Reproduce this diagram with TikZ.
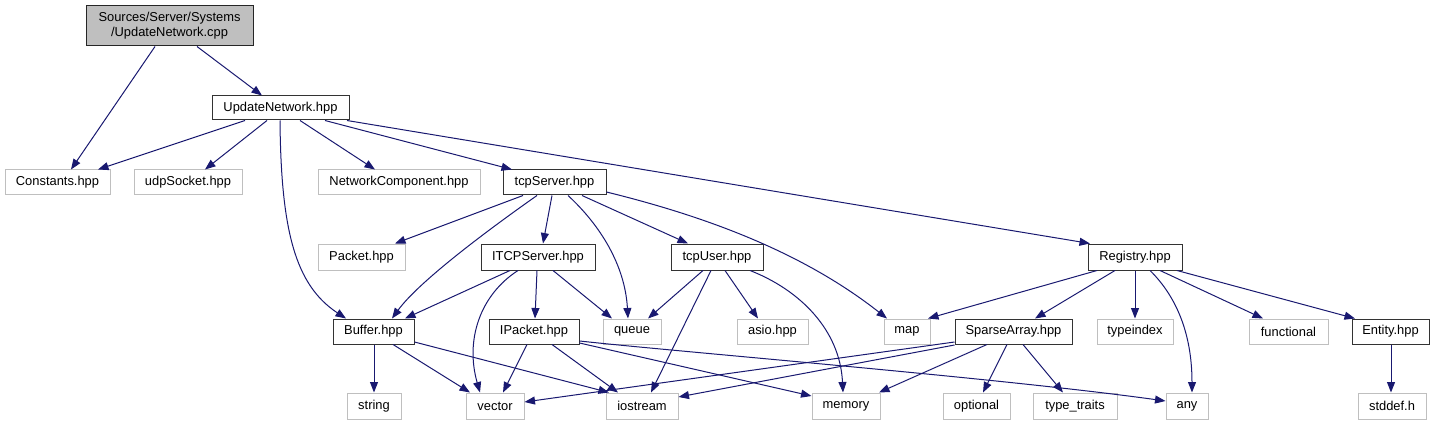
\documentclass[tikz,border=0pt]{standalone}
\usepackage{fontspec}
\setmainfont{Liberation Sans}
\usetikzlibrary{arrows.meta}
\definecolor{edgeblue}{HTML}{191970}
\definecolor{lgray}{HTML}{BFBFBF}
\newcommand\bx[7]{\node[#6, minimum width={(#4)-(#2)}, minimum height={(#5)-(#3)}] (#1) at ({((#2)+(#4))/2},{((#3)+(#5))/2}) {#7};}
\begin{document}
\begin{tikzpicture}[x=1pt,y=-1pt,
  font=\fontsize{12.9}{15}\selectfont,
  doc/.style={draw=black!80, line width=1pt, inner sep=0pt, fill=white},
  undoc/.style={draw=lgray, line width=1pt, inner sep=0pt, fill=white},
  rootbox/.style={draw=black!85, line width=1pt, inner sep=0pt, fill=lgray, align=center},
  e/.style={draw=edgeblue, line width=1pt, -{Triangle[length=10.5pt,width=8pt,fill=edgeblue]}}
]
\useasboundingbox (0,0) rectangle (1436,425);
% nodes
\bx{root}{86}{6}{253}{46}{rootbox}{Sources/Server/Systems\\/UpdateNetwork.cpp}
\bx{UN}{212}{96}{349}{120}{doc}{UpdateNetwork.hpp}
\bx{Constants}{5}{170}{110}{195}{undoc}{Constants.hpp}
\bx{udp}{134}{170}{242}{195}{undoc}{udpSocket.hpp}
\bx{NetComp}{318}{170}{480}{195}{undoc}{NetworkComponent.hpp}
\bx{tcpServer}{503}{170}{606}{195}{doc}{tcpServer.hpp}
\bx{Packet}{318}{244}{405}{270}{undoc}{Packet.hpp}
\bx{ITCP}{481}{244}{595}{270}{doc}{ITCPServer.hpp}
\bx{tcpUser}{671}{244}{763}{270}{doc}{tcpUser.hpp}
\bx{Registry}{1088}{244}{1182}{270}{doc}{Registry.hpp}
\bx{Buffer}{333}{319}{414}{344}{doc}{Buffer.hpp}
\bx{IPacket}{489}{319}{579}{344}{doc}{IPacket.hpp}
\bx{queue}{603}{319}{661}{344}{undoc}{queue}
\bx{asio}{737}{319}{808}{344}{undoc}{asio.hpp}
\bx{map}{884}{319}{930}{344}{undoc}{map}
\bx{Sparse}{955}{319}{1072}{344}{doc}{SparseArray.hpp}
\bx{typeindex}{1097}{319}{1173}{344}{undoc}{typeindex}
\bx{functional}{1249}{319}{1328}{344}{undoc}{functional}
\bx{Entity}{1352}{319}{1429}{344}{doc}{Entity.hpp}
\bx{string}{347}{393}{401}{419}{undoc}{string}
\bx{vector}{466}{393}{524}{419}{undoc}{vector}
\bx{iostream}{606}{393}{678}{419}{undoc}{iostream}
\bx{memory}{812}{393}{880}{419}{undoc}{memory}
\bx{optional}{943}{393}{1010}{419}{undoc}{optional}
\bx{typetraits}{1033}{393}{1117}{419}{undoc}{type\_traits}
\bx{any}{1166}{393}{1208}{419}{undoc}{any}
\bx{stddef}{1358}{393}{1426}{419}{undoc}{stddef.h}
% edges
\draw[e] (root.south -| 155,0) -- (Constants.north -| 71,0);
\draw[e] (root.south -| 197,0) -- (UN.north -| 262,0);
\draw[e] (UN.south -| 245,0) -- (Constants.north -| 98,0);
\draw[e] (UN.south -| 267,0) -- (udp.north -| 205,0);
\draw[e] (UN.south -| 280,0) .. controls (281,230) and (295,285) .. (Buffer.north -| 346,0);
\draw[e] (UN.south -| 300,0) -- (NetComp.north -| 375,0);
\draw[e] (UN.south -| 325,0) -- (tcpServer.north -| 512,0);
\draw[e] (UN.south -| 347,0) -- (Registry.north -| 1090,0);
\draw[e] (tcpServer.south -| 523,0) -- (Packet.north -| 395,0);
\draw[e] (tcpServer.south -| 537,0) .. controls (495,225) and (420,280) .. (Buffer.north -| 392,0);
\draw[e] (tcpServer.south -| 552,0) -- (ITCP.north -| 543,0);
\draw[e] (tcpServer.south -| 568,0) .. controls (600,225) and (625,265) .. (queue.north -| 628,0);
\draw[e] (tcpServer.south -| 582,0) -- (tcpUser.north -| 688,0);
\draw[e] (tcpServer.east |- 0,192) .. controls (700,215) and (800,250) .. (map.north -| 887,0);
\draw[e] (ITCP.south -| 510,0) -- (Buffer.north -| 405,0);
\draw[e] (ITCP.south -| 518,0) .. controls (480,295) and (465,340) .. (vector.north -| 480,0);
\draw[e] (ITCP.south -| 537,0) -- (IPacket.north -| 535,0);
\draw[e] (ITCP.south -| 553,0) -- (queue.north -| 612,0);
\draw[e] (tcpUser.south -| 703,0) -- (queue.north -| 648,0);
\draw[e] (tcpUser.south -| 711,0) -- (iostream.north -| 651,0);
\draw[e] (tcpUser.south -| 725,0) -- (asio.north -| 758,0);
\draw[e] (tcpUser.south -| 750,0) .. controls (800,290) and (840,330) .. (memory.north -| 843,0);
\draw[e] (Registry.south -| 1097,0) -- (map.north -| 928,0);
\draw[e] (Registry.south -| 1115,0) -- (Sparse.north -| 1035,0);
\draw[e] (Registry.south -| 1135,0) -- (typeindex.north -| 1135,0);
\draw[e] (Registry.south -| 1150,0) .. controls (1180,300) and (1192,340) .. (any.north -| 1192,0);
\draw[e] (Registry.south -| 1160,0) -- (functional.north -| 1263,0);
\draw[e] (Registry.south -| 1177,0) -- (Entity.north -| 1355,0);
\draw[e] (Entity.south -| 1391,0) -- (stddef.north -| 1391,0);
\draw[e] (Buffer.south -| 374,0) -- (string.north -| 374,0);
\draw[e] (Buffer.south -| 393,0) -- (vector.north -| 470,0);
\draw[e] (Buffer.east |- 0,342) -- (iostream.north -| 609,0);
\draw[e] (IPacket.south -| 527,0) -- (vector.north -| 503,0);
\draw[e] (IPacket.south -| 552,0) -- (iostream.north -| 618,0);
\draw[e] (IPacket.east |- 0,343) -- (memory.west |- 0,396);
\draw[e] (IPacket.east |- 0,341) .. controls (680,352) and (1000,378) .. (any.west |- 0,401);
\draw[e] (Sparse.west |- 0,342) -- (vector.east |- 0,402);
\draw[e] (Sparse.west |- 0,345) -- (iostream.east |- 0,397);
\draw[e] (Sparse.south -| 987,0) -- (memory.north -| 879,0);
\draw[e] (Sparse.south -| 1007,0) -- (optional.north -| 983,0);
\draw[e] (Sparse.south -| 1023,0) -- (typetraits.north -| 1063,0);
\end{tikzpicture}
\end{document}
